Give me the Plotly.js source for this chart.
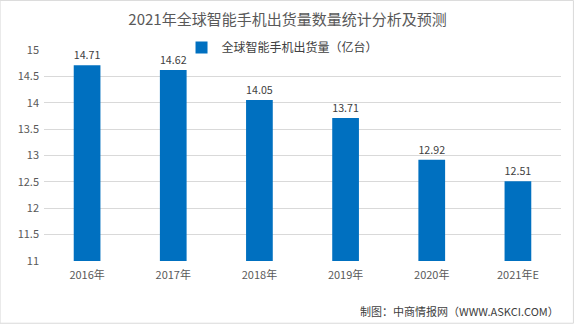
<!DOCTYPE html>
<html><head><meta charset="utf-8">
<script src="https://cdn.plot.ly/plotly-3.0.1.min.js"></script>
<style>html,body{margin:0;padding:0;background:#fff}#chart{width:575px;height:326px}</style>
</head><body><div id="chart"></div>
<script>
const categories = ["2016年", "2017年", "2018年", "2019年", "2020年", "2021年E"];
const shipments = [14.71, 14.62, 14.05, 13.71, 12.92, 12.51];
const seriesName = "全球智能手机出货量（亿台）";
const yTicks = [11, 11.5, 12, 12.5, 13, 13.5, 14, 14.5, 15];

const font = "'Noto Sans CJK SC', 'Noto Sans', sans-serif";
const trace = {
  type: "bar", x: categories, y: shipments, name: seriesName,
  marker: {color: "#0070C0"},
  text: shipments.map(v => v.toFixed(2)), textposition: "outside",
  textfont: {size: 11, color: "#404040", family: font},
  cliponaxis: false
};
const layout = {
  width: 575, height: 326,
  margin: {l: 44, r: 14, t: 50, b: 65},
  paper_bgcolor: "#fff", plot_bgcolor: "#fff",
  font: {family: font, color: "#595959", size: 11},
  title: {text: "2021年全球智能手机出货量数量统计分析及预测", x: 0.5, xanchor: "center", y: 0.94, yanchor: "middle",
    font: {size: 15, color: "#595959", family: font}},
  bargap: 0.69,
  xaxis: {type: "category", showgrid: false, showline: false, ticks: "", tickfont: {size: 11, color: "#595959"},
    ticklabelstandoff: 6},
  yaxis: {range: [11, 15], tickvals: yTicks, ticktext: yTicks.map(String), showgrid: true, gridcolor: "#D9D9D9",
    zeroline: false, showline: false, ticks: "", tickfont: {size: 11, color: "#595959"}, ticklabelstandoff: 4},
  showlegend: true,
  legend: {x: 0.266, xanchor: "left", y: 1.012, yanchor: "middle", orientation: "h", itemwidth: 30,
    font: {size: 12, color: "#404040", family: font}, bgcolor: "rgba(0,0,0,0)"},
  annotations: [{text: "制图：中商情报网（WWW.ASKCI.COM）", xref: "paper", yref: "paper", x: 1, y: -0.235,
    xanchor: "right", yanchor: "middle", showarrow: false, font: {size: 11, color: "#404040", family: font}}],
  shapes: [{type: "rect", xref: "paper", yref: "paper", x0: -0.085, x1: 1.024, y0: -0.295, y1: 1.235,
    line: {color: "#D9D9D9", width: 1}}]
};
Plotly.newPlot("chart", [trace], layout, {displayModeBar: false, staticPlot: true});
</script></body></html>
